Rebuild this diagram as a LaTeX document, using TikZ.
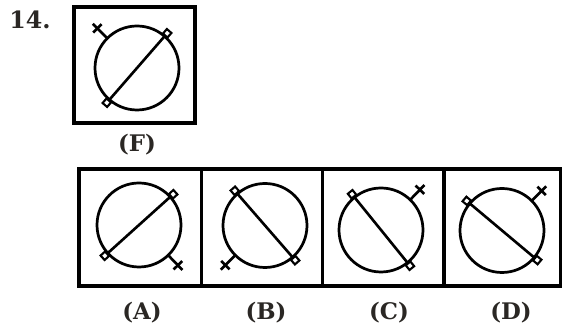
\documentclass[tikz,border=0pt]{standalone}
\usepackage{fontspec}
\setmainfont{DejaVu Serif}
\usetikzlibrary{calc}
\definecolor{qzink}{HTML}{000000}
\definecolor{qztext}{HTML}{2A2724}
\tikzset{
  qz frame/.style={draw=qzink, line width=1.8pt},
  qz ring/.style={draw=qzink, line width=1.55pt},
  qz bar/.style={draw=qzink, line width=1.5pt},
  qz tag/.style={draw=qzink, line width=1.2pt, fill=white, rectangle,
    minimum size=0.12cm, inner sep=0pt},
  qz label/.style={font=\fontsize{13}{15}\selectfont\bfseries, text=qztext}
}

\begin{document}
\begin{tikzpicture}[x=0.02cm, y=0.02cm]
  \useasboundingbox (0,0) rectangle (562,327);
  % frames
  \draw[qz frame] (74,204) rectangle (195,320);
  \draw[qz frame] (79,41) rectangle (560.3,158);
  \foreach \x in {201.7,322.7,444} {
    \draw[qz frame] (\x,41) -- (\x,158);
  }
  % figures: name/centre/line angle/stick angle
  \foreach \n/\cx/\cy/\ln/\st in {F/137/259/49/135, A/139/102/42/-46,
      B/265/101.5/131/225, C/381/97/129/46, D/502/96.5/140/45} {
    \coordinate (o\n) at (\cx,\cy);
    \draw[qz ring] (o\n) circle[radius=42];
    \node[qz tag, rotate=\ln] (p\n) at ($(o\n)+(\ln:46)$) {};
    \node[qz tag, rotate=\ln] (q\n) at ($(o\n)+(\ln+180:46)$) {};
    \draw[qz bar] (p\n) -- (q\n);
    \draw[qz bar] ($(o\n)+(\st:42)$) -- ($(o\n)+(\st:62.5)$);
    \draw[qz bar] ($(o\n)+(\st:56)+(\st+90:6)$) -- ($(o\n)+(\st:56)+(\st-90:6)$);
  }
  % labels
  \node[qz label, font=\fontsize{13.5}{15}\selectfont\bfseries] (num) at (30,307.5) {14.};
  \node[qz label] (lF) at (137,182) {(F)};
  \foreach \n/\x in {A/142,B/266,C/389,D/511} {
    \node[qz label] (l\n) at (\x,14) {(\n)};
  }
\end{tikzpicture}
\end{document}
